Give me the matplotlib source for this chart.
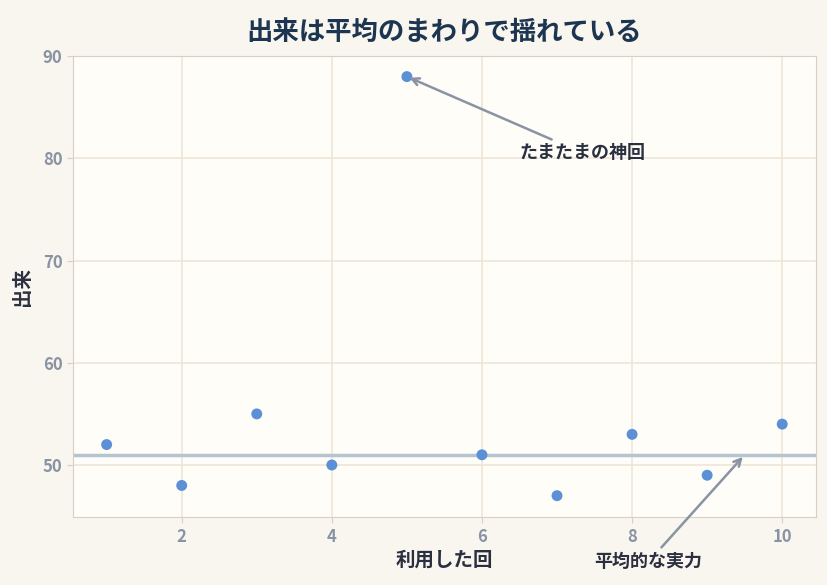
import matplotlib.pyplot as plt

plt.rcParams['font.family'] = ['Noto Sans CJK JP', 'DejaVu Sans']

# data
visits = [1, 2, 3, 4, 5, 6, 7, 8, 9, 10]
scores = [52, 48, 55, 50, 88, 51, 47, 53, 49, 54]
average = 51
xticks = [2, 4, 6, 8, 10]
yticks = [50, 60, 70, 80, 90]

fig = plt.figure(figsize=(8.28, 5.85), dpi=100)
fig.patch.set_facecolor('#f9f5ef')
ax = fig.add_axes([0.088, 0.116, 0.8975, 0.788])
ax.set_facecolor('#fffdf8')

ax.grid(True, color='#efe6d8', lw=1.2, zorder=0)
ax.set_axisbelow(True)
ax.axhline(average, color='#b4c4d0', lw=2.5, zorder=2)
ax.scatter(visits, scores, s=62, color='#5b8fd6', zorder=3, edgecolors='none')

ax.set_xticks(xticks)
ax.set_yticks(yticks)
ax.set_xlim(0.55, 10.45)
ax.set_ylim(44.9, 90.0)
for s in ax.spines.values():
    s.set_color('#d9d0c3')
ax.tick_params(colors='#d9d0c3', labelcolor='#8a93a3', labelsize=12, length=4)
for lab in ax.get_xticklabels() + ax.get_yticklabels():
    lab.set_fontweight('bold')

ax.set_title('出来は平均のまわりで揺れている', fontsize=19, fontweight='bold',
             color='#1c3550', pad=12)
ax.set_xlabel('利用した回', fontsize=14, fontweight='bold', color='#2a3040', labelpad=4)
ax.set_ylabel('出来', fontsize=14, fontweight='bold', color='#2a3040', labelpad=8)

arrow = dict(arrowstyle='->', color='#8a93a3', lw=1.8)
ax.annotate('たまたまの神回', xy=(5, 88), xytext=(6.5, 80), fontsize=13,
            fontweight='bold', color='#2a3040', arrowprops=arrow)
ax.annotate('平均的な実力', xy=(9.5, 51), xytext=(7.5, 40), fontsize=13,
            fontweight='bold', color='#2a3040', arrowprops=arrow,
            annotation_clip=False)

fig.savefig('out.png', dpi=100, facecolor=fig.get_facecolor())
